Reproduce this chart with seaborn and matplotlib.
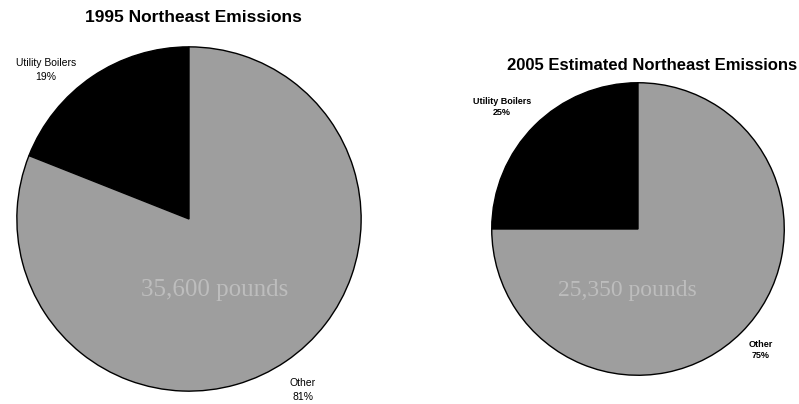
import matplotlib
matplotlib.use("Agg")
import matplotlib.pyplot as plt
import seaborn as sns

# Emission shares (percent) by source
categories = ["Utility Boilers", "Other"]
shares_1995 = [19, 81]
shares_2005 = [25, 75]
totals = ["35,600 pounds", "25,350 pounds"]
titles = ["1995 Northeast Emissions", "2005 Estimated Northeast Emissions"]

sns.set_theme(style="white")
plt.rcParams["font.family"] = ["Liberation Sans", "DejaVu Sans"]
plt.rcParams["text.color"] = "black"

colors = ["#000000", "#9e9e9e"]

W, H = 799, 404
fig = plt.figure(figsize=(W / 100, H / 100), dpi=100)
fig.patch.set_facecolor("white")


def pie_axes(cx, cy, r):
    return fig.add_axes([(cx - r) / W, (H - cy - r) / H, 2 * r / W, 2 * r / H])


ax1 = pie_axes(189, 219, 173)
ax2 = pie_axes(638, 229, 147)

for ax, vals in ((ax1, shares_1995), (ax2, shares_2005)):
    ax.pie(vals, colors=colors, startangle=90, counterclock=True,
           wedgeprops=dict(edgecolor="black", linewidth=1.0))
    ax.set_xlim(-1.005, 1.005)
    ax.set_ylim(-1.005, 1.005)
    ax.axis("off")

# Faint total annotations inside the pies
ax1.text(0.15, -0.41, totals[0], ha="center", va="center", fontsize=18,
         family=["Liberation Serif", "DejaVu Serif"], color="#bdbdbd")
ax2.text(-0.07, -0.42, totals[1], ha="center", va="center", fontsize=17,
         family=["Liberation Serif", "DejaVu Serif"], color="#bdbdbd")

# Titles
fig.text(193 / W, 1 - 18 / H, titles[0], ha="center", va="center",
         fontsize=12.5, fontweight="bold")
fig.text(652 / W, 1 - 65 / H, titles[1], ha="center", va="center",
         fontsize=12, fontweight="bold")

# Slice labels
def label(x, y, name, pct, size, weight):
    fig.text(x / W, 1 - y / H, f"{name}\n{pct}%", ha="center", va="center",
             fontsize=size, fontweight=weight, linespacing=1.4)

label(46, 70, categories[0], shares_1995[0], 7.5, "normal")
label(303, 390, categories[1], shares_1995[1], 7.5, "normal")
label(502, 107, categories[0], shares_2005[0], 6.5, "bold")
label(761, 350, categories[1], shares_2005[1], 6.5, "bold")

fig.savefig("out.png", dpi=100, facecolor="white")
